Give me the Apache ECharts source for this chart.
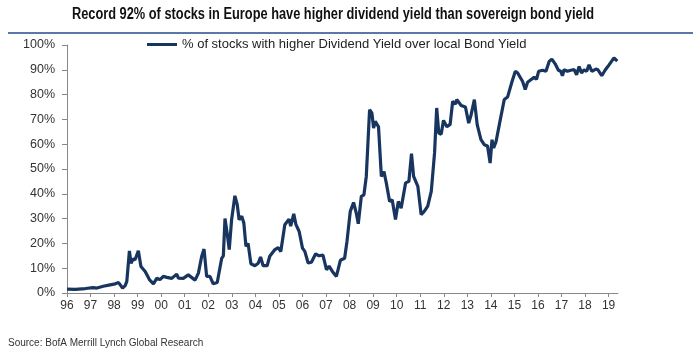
<!DOCTYPE html>
<html>
<head>
<meta charset="utf-8">
<script src="https://cdn.jsdelivr.net/npm/echarts@6/dist/echarts.min.js"></script>
<style>
html,body{margin:0;padding:0;background:#fff;}
#chart{width:700px;height:357px;}
</style>
</head>
<body>
<div id="chart"></div>
<script>
const titleText = "Record 92% of stocks in Europe have higher dividend yield than sovereign bond yield";
const seriesName = "% of stocks with higher Dividend Yield over local Bond Yield";
const sourceText = "Source: BofA Merrill Lynch Global Research";
const yTickLabels = ["0%","10%","20%","30%","40%","50%","60%","70%","80%","90%","100%"];

const years = [
1996.00,1996.35,1996.78,1997.11,1997.27,1997.54,1997.83,1998.05,1998.19,1998.36,1998.47,1998.54,1998.65,1998.72,1998.80,1998.89,
1999.03,1999.14,1999.32,1999.50,1999.67,1999.81,1999.95,2000.09,2000.24,2000.45,2000.66,2000.73,2000.94,2001.15,2001.44,2001.58,
2001.72,2001.82,2001.93,2002.07,2002.21,2002.38,2002.57,2002.64,2002.71,2002.81,2002.89,2002.99,2003.13,2003.23,2003.31,2003.42,
2003.51,2003.60,2003.69,2003.81,2003.98,2004.12,2004.22,2004.33,2004.50,2004.61,2004.83,2004.97,2005.08,2005.25,2005.43,2005.50,
2005.63,2005.72,2005.86,2006.00,2006.10,2006.24,2006.38,2006.56,2006.70,2006.87,2007.02,2007.13,2007.27,2007.44,2007.61,2007.79,
2007.89,2008.03,2008.17,2008.29,2008.37,2008.50,2008.61,2008.71,2008.85,2008.95,2009.02,2009.09,2009.23,2009.35,2009.46,2009.56,
2009.70,2009.81,2009.95,2010.07,2010.19,2010.38,2010.52,2010.63,2010.72,2010.90,2011.04,2011.18,2011.32,2011.47,2011.61,2011.70,
2011.79,2011.89,2011.99,2012.13,2012.27,2012.38,2012.50,2012.55,2012.74,2012.92,2013.06,2013.16,2013.30,2013.42,2013.58,2013.72,
2013.86,2013.97,2014.05,2014.12,2014.22,2014.36,2014.57,2014.71,2014.90,2015.04,2015.14,2015.21,2015.35,2015.46,2015.56,2015.70,
2015.84,2015.94,2016.03,2016.20,2016.34,2016.48,2016.59,2016.73,2016.87,2016.97,2017.04,2017.11,2017.25,2017.40,2017.54,2017.64,
2017.75,2017.85,2017.96,2018.07,2018.17,2018.29,2018.46,2018.55,2018.71,2018.85,2019.02,2019.23,2019.37
];
const values = [
1.6,1.5,1.8,2.2,2.0,2.7,3.3,3.7,4.2,2.0,3.0,4.7,17,12,13.7,13.4,
17,10.7,8.7,5.4,3.7,5.9,5.4,6.7,6.3,5.9,7.6,6.0,5.9,7.3,5.2,8.0,
14.8,17.7,6.7,6.7,3.7,4.2,14,15,30,23.5,17.5,29.5,39.2,35.6,29.5,31,
28.2,18.8,20,11.8,11,12,14.5,11,11,14.8,17.5,18.3,16.7,27.5,29.8,27,
31.9,27.7,24.8,18.1,16.8,12.1,12.4,15.8,15,15.3,9.4,10.8,8.7,6.7,13.2,14,
20.8,32.9,36.5,32,27.9,39,39.6,47,73.9,72.5,66.5,69.2,67,47,49,44.4,
36.9,37.6,29.6,36.9,34.2,44.4,45,56.2,47,43,31.6,33,35,41,56.5,74.6,
64.5,64,69.6,67,68,77.3,76.2,78,75.6,75,68.5,71.8,78,67.9,61.8,59.8,
59.3,52.4,61.8,58.5,61,67.9,78,79,85.3,89.4,88.7,89.4,85.3,82,85,86,
87,86.2,89.4,89.8,89.4,93.4,94.3,92.4,89.8,89.4,87.6,90,89.4,89.8,90.1,88,
91.3,88.7,90,89.4,92,89.4,90.3,90,87.6,89.8,92,94.8,93.5
];

const data = years.map((y, i) => [y, values[i]]);
const chart = echarts.init(document.getElementById('chart'), null, {renderer: 'canvas'});
const fontFam = 'Liberation Sans, Arial, sans-serif';
chart.setOption({
  animation: false,
  backgroundColor: '#fff',
  graphic: [
    {type: 'text', x: 333, y: 15, scaleX: 0.8,
      style: {text: titleText, font: 'bold 16px ' + fontFam, fill: '#111', textAlign: 'center', textVerticalAlign: 'middle'}},
    {type: 'rect', left: 8, top: 32, shape: {width: 685, height: 2}, style: {fill: '#5a78a6'}},
    {type: 'text', left: 8, top: 338, style: {text: sourceText, font: '10px ' + fontFam, fill: '#333'}}
  ],
  legend: {
    data: [seriesName],
    left: 142, top: 33,
    icon: 'rect', itemWidth: 30, itemHeight: 3, itemGap: 6,
    textStyle: {fontFamily: fontFam, fontSize: 13, color: '#222'}
  },
  grid: {left: 67, right: 82, top: 45, bottom: 64, containLabel: false},
  xAxis: {
    type: 'value', min: 1996, max: 2019.4, interval: 1,
    axisLine: {lineStyle: {color: '#888', width: 1}},
    axisTick: {show: true, length: 4, lineStyle: {color: '#888'}},
    axisLabel: {
      margin: 7, color: '#333', fontFamily: fontFam, fontSize: 12,
      formatter: v => Number.isInteger(v) ? String(v).slice(2) : '',
      showMaxLabel: false
    },
    splitLine: {show: false}
  },
  yAxis: {
    type: 'value', min: 0, max: 100, interval: 10,
    axisLine: {show: true, lineStyle: {color: '#888', width: 1}},
    axisTick: {show: true, length: 5, lineStyle: {color: '#888'}},
    axisLabel: {margin: 12, color: '#333', fontFamily: fontFam, fontSize: 12.5,
      formatter: v => yTickLabels[Math.round(v / 10)]},
    splitLine: {show: false}
  },
  series: [{
    name: seriesName,
    type: 'line',
    data: data,
    symbol: 'none',
    lineStyle: {color: '#17355f', width: 3.2},
    itemStyle: {color: '#17355f'}
  }]
});
</script>
</body>
</html>
